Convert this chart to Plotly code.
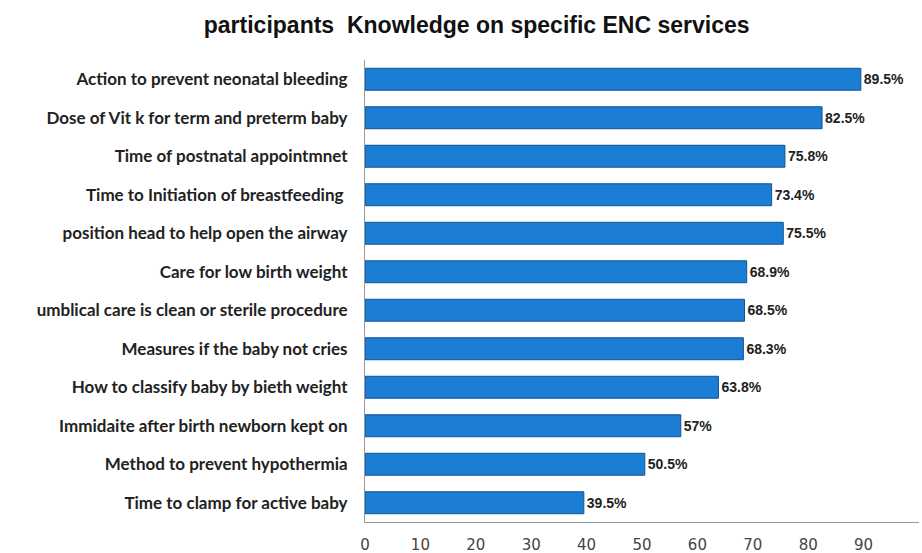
import plotly.graph_objects as go

categories = [
    "Action to prevent neonatal bleeding",
    "Dose of Vit k for term and preterm baby",
    "Time of postnatal appointmnet",
    "Time to Initiation of breastfeeding ",
    "position head to help open the airway",
    "Care for low birth weight",
    "umblical care is clean or sterile procedure",
    "Measures if the baby not cries",
    "How to classify baby by bieth weight",
    "Immidaite after birth newborn kept on",
    "Method to prevent hypothermia",
    "Time to clamp for active baby",
]
values = [89.5, 82.5, 75.8, 73.4, 75.5, 68.9, 68.5, 68.3, 63.8, 57, 50.5, 39.5]
labels = ["89.5%", "82.5%", "75.8%", "73.4%", "75.5%", "68.9%", "68.5%", "68.3%", "63.8%", "57%", "50.5%", "39.5%"]
x_ticks = [0, 10, 20, 30, 40, 50, 60, 70, 80, 90, 100]

fig = go.Figure(go.Bar(
    y=categories,
    x=values,
    orientation="h",
    text=labels,
    textposition="outside",
    textfont=dict(family="Liberation Sans, Arial", size=14, color="#222222", weight="bold"),
    cliponaxis=False,
    width=0.57,
    marker=dict(color="#1b7dd3", line=dict(color="#0e5596", width=1)),
))

fig.update_layout(
    width=922, height=553,
    paper_bgcolor="white", plot_bgcolor="white",
    margin=dict(l=365, r=3, t=60, b=31, autoexpand=False),
    title=dict(text="participants  Knowledge on specific ENC services",
               x=0.517, xref="container", xanchor="center",
               y=0.955, yref="container", yanchor="middle",
               font=dict(family="Liberation Sans, Arial", size=23, color="#111111", weight="bold")),
    showlegend=False,
)
fig.update_yaxes(
    autorange="reversed",
    automargin=False,
    showline=True, linecolor="#999999", linewidth=1,
    showgrid=False, ticks="",
    ticklabelstandoff=13,
    tickfont=dict(family="Lato, Carlito, sans-serif", size=17, color="#222222", weight="bold"),
)
fig.update_xaxes(
    range=[0, 100],
    tickvals=x_ticks,
    automargin=False,
    showline=True, linecolor="#999999", linewidth=1,
    showgrid=False, zeroline=False, ticks="",
    ticklabelstandoff=9,
    tickfont=dict(family="DejaVu Sans, sans-serif", size=15, color="#444444"),
)

fig.write_html("out.html", config={"displayModeBar": False},
               post_script="document.body.style.margin='0';")
